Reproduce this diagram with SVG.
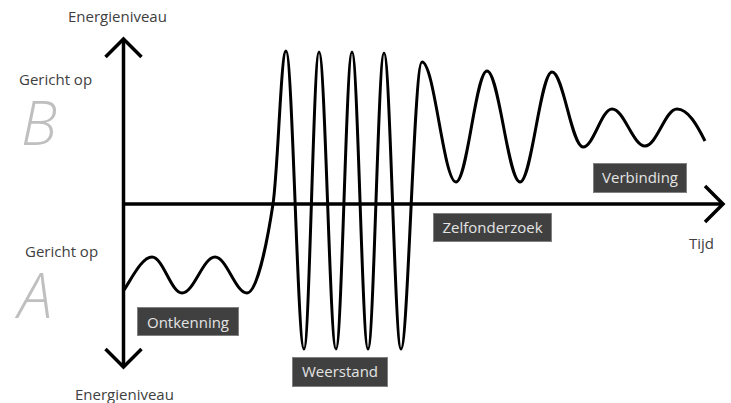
<svg xmlns="http://www.w3.org/2000/svg" width="731" height="403" viewBox="0 0 731 403">
<style>
  .t { font-family: "Open Sans", "Noto Sans", "Liberation Sans", sans-serif; font-size: 15px; fill: #404040; }
  .big { font-family: "Open Sans", "Noto Sans", "Liberation Sans", sans-serif; font-style: italic; font-weight: 300; fill: #bfbfbf; }
  .lbl rect { fill: #404040; stroke: #808080; stroke-width: 1; }
  .lbl text { font-family: "Open Sans", "Noto Sans", "Liberation Sans", sans-serif; font-size: 15px; fill: #e4e4e4; text-anchor: middle; }
  .axis { fill: none; stroke: #000; stroke-width: 3.5; }
  .wave { fill: none; stroke: #000; stroke-width: 3; stroke-linejoin: round; }
</style>
<defs>
  <marker id="open" markerUnits="userSpaceOnUse" viewBox="0 0 26 40" refX="22" refY="20" markerWidth="26" markerHeight="40" orient="auto-start-reverse" overflow="visible">
    <path d="M4,2 L22,20 L4,38" fill="none" stroke="#000" stroke-width="3.5"/>
  </marker>
</defs>
<rect width="731" height="403" fill="#fff"/>
<g id="connectors">
  <path id="y-axis" class="axis" d="M123.5,367 L123.5,39" marker-start="url(#open)" marker-end="url(#open)"/>
  <path id="x-axis" class="axis" d="M122,204 L723,204" marker-end="url(#open)"/>
  <path id="curve" class="wave" d="M124,290 C132,278 142,257 152,257 C162.9,257 171.1,293 182,293 C194,293 203,257 215,257 C226.6,257 235.4,293 247,293 C256,293 266,250 273,204 C278,171 281,51 286,51 C292.5,51 297.5,349 304,349 C309.5,349 313.5,52 319,52 C325.2,52 329.8,349 336,349 C341.8,349 346.2,52 352,52 C357.8,52 362.2,349 368,349 C373.8,349 378.2,53 384,53 C390.2,53 394.8,349 401,349 C408,349 414,62 422,62 C434.4,62 443.6,182 456,182 C467.3,182 475.7,71 487,71 C499,71 508,182 520,182 C531.6,182 540.4,72 552,72 C563.3,72 571.7,147 583,147 C593.5,147 601.5,109 612,109 C624,109 633,146 645,146 C656.6,146 665.4,109 677,109 C688,109 697,125 705,141"/>
</g>
<g id="axis-top-label"><text class="t" x="68" y="22">Energieniveau</text></g>
<g id="axis-bottom-label"><text class="t" x="75" y="400">Energieniveau</text></g>
<g id="time-label"><text class="t" x="689" y="249">Tijd</text></g>
<g id="goal-b">
  <text class="t" x="19" y="85">Gericht op</text>
  <text class="big" x="21" y="145" font-size="60">B</text>
</g>
<g id="goal-a">
  <text class="t" x="25" y="257">Gericht op</text>
  <text class="big" x="18" y="318" font-size="62">A</text>
</g>
<g id="ontkenning" class="lbl"><rect x="137.5" y="307.5" width="101" height="28"/><text x="188" y="328">Ontkenning</text></g>
<g id="weerstand" class="lbl"><rect x="292.5" y="357.5" width="95" height="29"/><text x="340" y="377">Weerstand</text></g>
<g id="zelfonderzoek" class="lbl"><rect x="433.5" y="213.5" width="118" height="28"/><text x="492.5" y="233">Zelfonderzoek</text></g>
<g id="verbinding" class="lbl"><rect x="593.5" y="163.5" width="93" height="29"/><text x="640" y="183">Verbinding</text></g>
</svg>
